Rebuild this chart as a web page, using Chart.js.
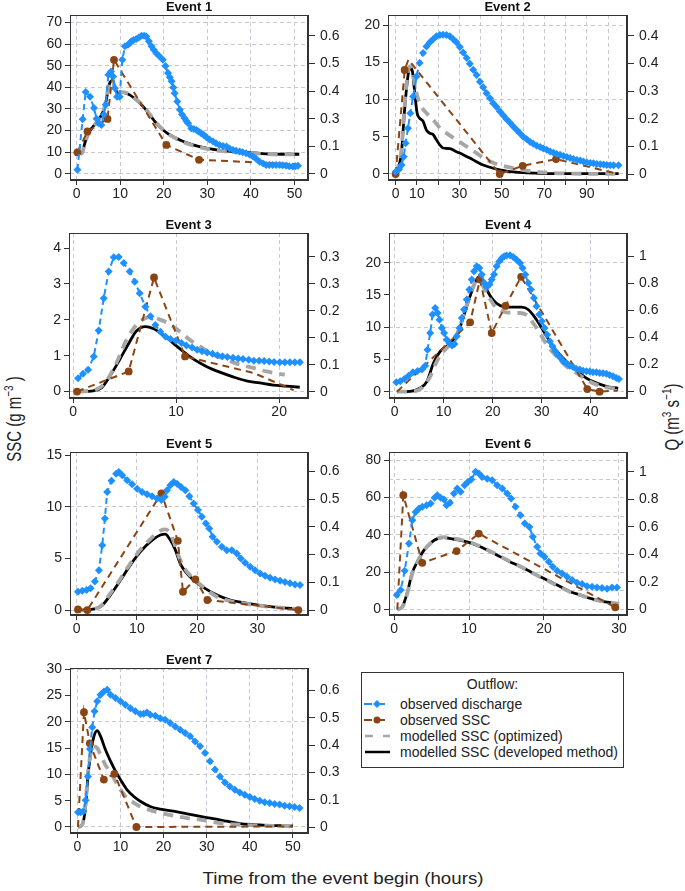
<!DOCTYPE html>
<html>
<head>
<meta charset="utf-8">
<script src="https://cdn.jsdelivr.net/npm/chart.js@4.4.1/dist/chart.umd.min.js"></script>
<style>
  body { margin: 0; background: #fff; width: 685px; height: 891px; position: relative; overflow: hidden;
         font-family: "Liberation Sans", Arial, sans-serif; color: #222; }
  canvas { position: absolute; }
  .txt { position: absolute; white-space: nowrap; }
  #legend { position: absolute; left: 361px; top: 672px; width: 263px; height: 96px; border: 1px solid #333; box-sizing: border-box; }
  #legend .row { position: absolute; left: 0; height: 16px; font-size: 14px; line-height: 16px; }
  #legend svg { position: absolute; left: 1px; top: 3px; }
  #legend span { position: absolute; left: 38px; top: 0; white-space: nowrap; }
</style>
</head>
<body>

<div class="txt" style="left:0;top:400px;width:28px;height:40px;">
  <div style="position:absolute;left:-37px;top:10px;width:100px;text-align:center;font-size:15px;transform:rotate(-90deg) scaleY(1.3);">SSC (g m<sup style="font-size:10px">−3</sup> )</div>
</div>
<div class="txt" style="left:657px;top:398px;width:28px;height:40px;">
  <div style="position:absolute;left:-36px;top:10px;width:100px;text-align:center;font-size:15px;transform:rotate(-90deg) scaleY(1.3);">Q (m<sup style="font-size:10px">3</sup> s<sup style="font-size:10px">−1</sup>)</div>
</div>
<div class="txt" style="left:143px;top:869px;width:400px;text-align:center;font-size:17px;transform:scaleX(1.1);">Time from the event begin (hours)</div>

<div id="legend">
  <div class="row" style="top:3px;width:100%;text-align:center;">Outflow:</div>
  <div class="row" style="top:23px;">
    <svg width="28" height="10"><line x1="1" y1="5" x2="27" y2="5" stroke="#1E90FF" stroke-width="2" stroke-dasharray="8,5"/><polygon points="14,1 18,5 14,9 10,5" fill="#1E90FF"/></svg>
    <span>observed discharge</span></div>
  <div class="row" style="top:39px;">
    <svg width="28" height="10"><line x1="1" y1="5" x2="27" y2="5" stroke="#8B4513" stroke-width="2" stroke-dasharray="8,5"/><circle cx="14" cy="5" r="3.5" fill="#8B4513"/></svg>
    <span>observed SSC</span></div>
  <div class="row" style="top:55px;">
    <svg width="28" height="10"><line x1="2" y1="5" x2="27" y2="5" stroke="#a6a6a6" stroke-width="2.5" stroke-dasharray="8,10"/></svg>
    <span>modelled SSC (optimized)</span></div>
  <div class="row" style="top:71px;">
    <svg width="28" height="10"><line x1="2" y1="5" x2="27" y2="5" stroke="#000" stroke-width="2.5"/></svg>
    <span>modelled SSC (developed method)</span></div>
</div>

<script>
// ---- data: [time (h), value] ----
// discharge in m3/s (right axis), SSC in g/m3 (left axis)
// evNSSC = sampled points (drawn with a dot), evNSSCLine = extra vertices of the dashed SSC line

const ev1Discharge = [[0.2,0.019],[1.4,0.253],[2.1,0.38],[3.1,0.358],[4.0,0.305],[4.6,0.256],[5.1,0.235],[5.7,0.227],[6.3,0.275],[6.7,0.32],[7.3,0.459],[7.9,0.474],[8.4,0.451],[8.8,0.397],[9.3,0.358],[9.9,0.358],[10.5,0.529],[11.1,0.591],[11.8,0.598],[12.2,0.605],[12.6,0.614],[13.1,0.62],[13.7,0.625],[14.3,0.632],[14.9,0.64],[15.5,0.64],[16.0,0.637],[16.6,0.615],[17.2,0.591],[17.7,0.575],[18.3,0.559],[19.0,0.545],[19.8,0.529],[20.4,0.5],[21.0,0.467],[21.4,0.448],[21.8,0.429],[22.2,0.4],[22.5,0.374],[23.1,0.335],[23.7,0.297],[24.2,0.275],[24.8,0.258],[25.2,0.245],[25.6,0.235],[26.3,0.212],[26.9,0.208],[27.5,0.204],[28.0,0.196],[28.6,0.189],[29.2,0.18],[29.8,0.17],[30.5,0.16],[31.3,0.15],[32.0,0.142],[32.8,0.134],[33.6,0.13],[34.4,0.127],[35.1,0.118],[35.9,0.111],[36.6,0.107],[37.4,0.104],[38.1,0.1],[38.9,0.096],[39.7,0.09],[40.5,0.081],[41.2,0.07],[42.0,0.057],[42.8,0.048],[43.5,0.042],[44.2,0.042],[45.0,0.042],[45.8,0.042],[46.6,0.042],[47.3,0.04],[48.1,0.038],[48.8,0.036],[49.6,0.034],[50.2,0.036],[50.8,0.038]];
const ev1SSC = [[0.2,10.0],[2.5,19.6],[7.1,25.4],[8.6,52.7],[20.6,13.4],[28.1,6.5]];
const ev1SSCLine = [[51.0,4.5]];
const ev1Optimized = [[0.5,9.8],[1.2,9.5],[1.9,14.0],[2.7,18.5],[3.8,21.7],[5.3,25.5],[6.5,31.5],[7.6,43.0],[8.1,44.3],[8.7,40.5],[9.5,37.8],[10.7,37.8],[12.2,36.8],[13.7,34.5],[15.3,31.4],[16.8,27.6],[18.3,23.6],[19.8,20.5],[21.4,18.0],[23.7,15.5],[26.0,13.6],[28.2,12.3],[32.1,10.9],[35.9,10.1],[39.7,9.7],[43.5,9.2],[47.3,9.0],[51.1,9.0]];
const ev1Developed = [[0.5,9.6],[1.2,9.3],[1.9,14.2],[2.7,18.8],[3.8,21.9],[5.3,25.7],[6.5,31.1],[7.6,41.9],[8.2,43.0],[8.8,39.6],[9.5,37.3],[10.7,37.6],[12.2,36.5],[13.7,34.2],[15.3,31.1],[16.8,27.3],[18.3,23.4],[19.8,20.4],[21.4,18.0],[23.7,15.7],[26.0,13.9],[28.2,12.6],[32.1,11.1],[35.9,10.3],[39.7,9.9],[43.5,9.3],[47.3,9.1],[51.1,9.1]];

const ev2Discharge = [[0,0.007],[1.6,0.015],[2.8,0.029],[3.8,0.055],[4.7,0.098],[5.8,0.146],[6.9,0.193],[8.2,0.247],[9.8,0.31],[11.3,0.353],[12.9,0.385],[14.5,0.406],[16.1,0.419],[17.6,0.429],[19.2,0.438],[20.8,0.442],[22.3,0.443],[23.9,0.442],[25.5,0.438],[27.1,0.429],[28.6,0.419],[30.2,0.404],[31.8,0.387],[33.4,0.369],[34.9,0.351],[36.5,0.332],[38.1,0.315],[39.7,0.294],[41.2,0.276],[42.8,0.257],[44.4,0.241],[45.9,0.225],[47.5,0.213],[49.1,0.199],[50.7,0.186],[52.2,0.174],[53.8,0.163],[55.4,0.151],[57.0,0.14],[58.5,0.13],[60.1,0.119],[61.7,0.111],[63.3,0.102],[64.8,0.096],[66.4,0.09],[68.0,0.086],[69.5,0.081],[71.1,0.077],[72.7,0.072],[74.3,0.068],[75.8,0.064],[77.4,0.061],[79.0,0.057],[80.6,0.054],[82.1,0.051],[83.7,0.048],[85.3,0.045],[86.9,0.043],[88.4,0.04],[90.0,0.037],[91.6,0.035],[93.1,0.034],[94.7,0.032],[96.3,0.031],[97.9,0.03],[99.4,0.029],[101.0,0.028],[102.6,0.028],[104.9,0.028]];
const ev2SSC = [[0,0],[4.25,14.0],[49.0,0],[59.8,1.1],[75.5,2.0]];
const ev2SSCLine = [[6.0,15.4],[105,0]];
const ev2Optimized = [[0,0],[2.7,3.2],[4.2,9.1],[5.8,13.8],[6.9,14.5],[8.2,13.4],[9.8,10.9],[12.1,9.1],[14.5,8.2],[17.6,7.3],[20.8,6.2],[23.9,5.5],[28.6,4.6],[33.4,3.7],[38.1,2.8],[42.8,1.9],[49.1,1.2],[55.4,0.77],[61.7,0.45],[71.1,0.18],[83.7,0.05],[105,0]];
const ev2Developed = [[0,0.1],[2.7,2.8],[4.2,8.6],[5.8,13.2],[6.9,14.3],[7.9,13.8],[9.0,10.9],[10.1,8.2],[11.3,7.5],[12.9,7.1],[14.5,5.9],[16.0,5.5],[17.6,5.3],[19.2,4.6],[20.8,3.9],[22.3,3.5],[25.5,3.4],[28.6,3.0],[31.8,2.6],[36.5,1.9],[41.2,1.2],[45.9,0.77],[52.2,0.4],[60.1,0.18],[68.0,0.09],[83.7,0.05],[105,0.05]];

const ev3Discharge = [[0.49,0.033],[0.97,0.044],[1.46,0.054],[2.01,0.086],[2.49,0.15],[2.98,0.229],[3.46,0.294],[3.95,0.329],[4.43,0.33],[4.92,0.315],[5.5,0.294],[5.99,0.269],[6.47,0.241],[7.02,0.208],[7.51,0.185],[7.99,0.163],[8.48,0.147],[8.96,0.135],[9.45,0.129],[9.97,0.125],[10.52,0.119],[11.0,0.113],[11.55,0.108],[12.04,0.103],[12.52,0.099],[13.01,0.096],[13.53,0.093],[14.01,0.089],[14.5,0.087],[14.98,0.085],[15.53,0.083],[16.02,0.081],[16.5,0.08],[17.05,0.078],[17.54,0.076],[18.06,0.076],[18.54,0.075],[19.03,0.074],[19.51,0.073],[20.06,0.072],[20.55,0.072],[21.04,0.072],[21.52,0.072],[22.01,0.072]];
const ev3SSC = [[0.39,0],[5.4,0.56],[7.86,3.18],[10.87,0.98]];
const ev3SSCLine = [[17.5,0.52],[21.4,0.04]];
const ev3Optimized = [[0.5,0],[2.27,0.06],[3.24,0.29],[4.2,0.79],[5.18,1.44],[6.15,1.86],[6.8,2.01],[7.6,2.09],[8.41,2.01],[9.39,1.88],[10.36,1.67],[11.33,1.44],[12.3,1.26],[13.59,1.03],[14.89,0.89],[16.18,0.75],[17.48,0.66],[18.77,0.56],[20.55,0.47]];
const ev3Developed = [[0.5,0],[1.94,0.02],[2.75,0.1],[3.56,0.42],[4.53,0.89],[5.5,1.39],[6.15,1.69],[7.02,1.81],[7.77,1.76],[8.74,1.58],[9.71,1.35],[10.68,1.12],[11.65,0.91],[12.94,0.7],[14.24,0.54],[15.53,0.41],[16.83,0.3],[18.12,0.24],[19.42,0.18],[20.71,0.15],[22.0,0.12]];

const ev4Discharge = [[0.34,0.069],[1.15,0.076],[1.97,0.094],[2.85,0.118],[3.73,0.143],[4.68,0.153],[5.56,0.163],[6.24,0.192],[6.71,0.31],[7.25,0.433],[7.73,0.569],[8.27,0.618],[8.75,0.581],[9.15,0.532],[9.63,0.47],[10.1,0.433],[10.64,0.384],[11.19,0.355],[11.73,0.34],[12.2,0.352],[12.68,0.409],[13.22,0.47],[13.69,0.544],[14.17,0.606],[14.71,0.68],[15.25,0.754],[15.73,0.828],[16.2,0.889],[16.75,0.926],[17.29,0.914],[17.76,0.865],[18.31,0.803],[18.78,0.773],[19.32,0.791],[19.8,0.828],[20.27,0.865],[20.81,0.926],[21.36,0.963],[21.9,0.988],[22.37,1.0],[22.85,1.005],[23.53,1.007],[24.2,0.995],[24.88,0.975],[25.56,0.951],[26.1,0.914],[26.64,0.865],[27.25,0.803],[27.8,0.754],[28.41,0.692],[28.95,0.631],[29.49,0.569],[30.03,0.52],[30.58,0.47],[31.12,0.421],[31.66,0.372],[32.2,0.335],[32.75,0.298],[33.29,0.271],[33.83,0.249],[34.37,0.224],[35.05,0.207],[35.73,0.192],[36.41,0.182],[37.08,0.167],[37.76,0.163],[38.44,0.155],[39.12,0.15],[39.8,0.148],[40.47,0.143],[41.15,0.143],[41.83,0.138],[42.51,0.135],[43.19,0.133],[43.86,0.123],[44.54,0.113],[45.22,0.101],[45.76,0.094]];
const ev4SSC = [[15.4,10.75],[17.4,17.4],[19.8,9.1],[22.6,13.3],[25.8,17.8],[39.3,0.41],[41.8,0]];
const ev4SSCLine = [[0.47,0],[45.6,0.2]];
const ev4Optimized = [[0.47,0],[3.9,0.05],[5.9,0.83],[7.3,2.4],[8.6,4.7],[10.0,6.25],[11.3,7.3],[12.7,8.8],[14.0,11.7],[15.4,15.0],[16.7,17.1],[17.4,17.1],[18.4,15.8],[19.5,14.3],[20.8,13.0],[22.8,12.3],[25.6,12.2],[26.9,11.9],[28.3,10.6],[29.6,9.1],[31.3,7.0],[33.0,5.5],[35.1,3.9],[37.1,2.9],[39.1,1.86],[41.2,1.09],[43.2,0.67],[45.6,0.47]];
const ev4Developed = [[0.47,0],[3.2,0.05],[5.2,0.57],[6.6,1.6],[7.9,4.4],[9.3,6.25],[10.6,7.0],[12.0,8.1],[13.4,10.1],[14.7,13.2],[16.1,16.3],[17.1,17.8],[17.8,17.4],[18.8,15.8],[19.8,14.5],[20.8,13.7],[22.2,13.2],[24.2,13.1],[25.9,13.1],[27.3,12.7],[28.9,11.2],[30.6,9.1],[32.3,7.0],[34.0,5.5],[35.7,4.2],[37.4,3.15],[39.1,2.1],[41.2,1.34],[43.2,0.83],[45.6,0.52]];

const ev5Discharge = [[0.22,0.084],[0.94,0.089],[1.65,0.092],[2.32,0.1],[3.03,0.131],[3.7,0.184],[4.25,0.299],[4.69,0.422],[5.07,0.545],[5.79,0.596],[6.56,0.629],[7.0,0.637],[7.56,0.622],[8.38,0.599],[9.21,0.58],[10.04,0.56],[10.87,0.545],[11.69,0.534],[12.52,0.525],[13.35,0.514],[14.07,0.507],[14.62,0.522],[15.0,0.553],[15.55,0.576],[16.11,0.591],[16.66,0.583],[17.32,0.568],[18.04,0.553],[18.7,0.525],[19.42,0.491],[20.13,0.461],[20.79,0.43],[21.46,0.399],[22.01,0.376],[22.56,0.338],[23.28,0.315],[24.1,0.292],[24.93,0.276],[25.76,0.276],[26.59,0.261],[27.25,0.238],[27.96,0.218],[28.79,0.2],[29.62,0.184],[30.45,0.169],[31.27,0.158],[32.1,0.149],[32.93,0.141],[33.76,0.135],[34.58,0.129],[35.41,0.123],[36.24,0.118],[37.07,0.115]];
const ev5SSC = [[0.22,0.06],[1.77,0],[14.07,11.3],[16.8,6.7],[17.65,1.77],[19.7,2.97],[21.7,0.97],[36.8,0]];
const ev5SSCLine = [];
const ev5Optimized = [[0.22,0],[2.3,0.06],[4.0,0.39],[5.6,1.61],[7.3,3.06],[8.9,4.5],[10.6,5.87],[12.2,6.84],[13.9,7.68],[14.7,7.8],[15.55,7.42],[16.4,6.13],[17.2,4.84],[18.3,3.71],[19.7,2.9],[21.3,2.1],[23.3,1.29],[25.5,0.87],[27.7,0.65],[30.4,0.42],[33.2,0.26],[36.8,0.1]];
const ev5Developed = [[0.22,0],[2.3,0.06],[4.0,0.32],[5.6,1.45],[7.3,2.9],[8.9,4.35],[10.6,5.65],[12.2,6.6],[13.9,7.26],[14.7,7.35],[15.55,6.77],[16.4,5.8],[17.2,4.5],[18.3,3.55],[19.7,2.74],[21.3,2.1],[23.3,1.45],[25.5,0.97],[27.7,0.71],[30.4,0.45],[33.2,0.26],[36.8,0.1]];

const ev6Discharge = [[0.36,0.104],[0.89,0.14],[1.42,0.281],[2.0,0.479],[2.44,0.649],[2.88,0.709],[3.33,0.734],[3.77,0.746],[4.35,0.758],[4.88,0.77],[5.41,0.813],[5.77,0.83],[6.21,0.813],[6.66,0.799],[7.01,0.758],[7.46,0.775],[7.99,0.843],[8.43,0.879],[8.88,0.855],[9.41,0.903],[9.85,0.927],[10.3,0.944],[10.87,1.002],[11.32,0.988],[11.76,0.964],[12.43,0.951],[13.09,0.939],[13.76,0.903],[14.43,0.879],[15.09,0.843],[15.62,0.806],[16.2,0.746],[16.87,0.685],[17.44,0.625],[18.06,0.6],[18.51,0.528],[19.09,0.455],[19.53,0.407],[20.06,0.383],[20.64,0.346],[21.17,0.31],[21.75,0.281],[22.42,0.261],[23.08,0.237],[23.75,0.213],[24.41,0.194],[25.08,0.184],[25.74,0.169],[26.41,0.165],[27.07,0.16],[27.74,0.155],[28.41,0.15],[29.07,0.16],[29.74,0.16]];
const ev6SSC = [[1.24,61.3],[3.77,25.0],[8.34,31.3],[11.3,40.7],[29.5,1.1]];
const ev6SSCLine = [[0.44,0],[30.0,0]];
const ev6Optimized = [[0.44,0],[1.1,1.2],[1.8,9.0],[2.4,18.8],[3.1,25.2],[4.0,31.6],[4.9,35.6],[5.8,38.1],[6.7,38.8],[7.5,38.3],[8.9,37.4],[10.2,36.0],[11.5,33.9],[12.9,31.1],[14.2,28.4],[15.5,25.6],[16.9,22.9],[18.2,20.2],[19.5,17.4],[20.9,14.6],[22.2,11.9],[23.5,9.4],[24.9,7.6],[26.2,5.9],[27.5,4.6],[28.9,3.7],[30.0,3.0]];
const ev6Developed = [[0.44,0],[1.1,1.4],[1.8,9.5],[2.4,19.3],[3.1,25.5],[4.0,31.8],[4.9,35.7],[5.8,38.0],[6.7,38.6],[7.5,38.0],[8.9,37.1],[10.2,35.7],[11.5,33.6],[12.9,30.9],[14.2,28.2],[15.5,25.5],[16.9,22.9],[18.2,20.2],[19.5,17.5],[20.9,14.8],[22.2,12.1],[23.5,9.5],[24.9,7.7],[26.2,5.9],[27.5,4.5],[28.9,3.6],[30.0,2.9]];

const ev7Discharge = [[0.15,0.069],[0.77,0.069],[1.38,0.073],[1.92,0.125],[2.46,0.237],[2.92,0.365],[3.46,0.468],[4.0,0.542],[4.62,0.589],[5.38,0.62],[6.15,0.635],[6.92,0.643],[7.69,0.62],[8.85,0.604],[10.0,0.589],[11.15,0.573],[12.31,0.557],[13.46,0.542],[14.62,0.529],[15.38,0.531],[16.15,0.537],[16.92,0.526],[18.08,0.521],[19.23,0.51],[20.38,0.503],[21.54,0.487],[22.69,0.471],[23.85,0.456],[25.0,0.44],[26.15,0.425],[27.31,0.401],[28.46,0.378],[29.62,0.347],[30.77,0.308],[31.92,0.269],[33.08,0.237],[34.23,0.209],[35.38,0.19],[36.54,0.175],[37.69,0.162],[38.85,0.151],[40.0,0.141],[41.15,0.131],[42.31,0.123],[43.46,0.116],[44.62,0.112],[45.77,0.108],[46.92,0.105],[48.08,0.1],[49.23,0.097],[50.38,0.094],[51.54,0.089]];
const ev7SSC = [[1.54,21.8],[2.9,15.9],[6.15,9.0],[8.6,10.1],[13.7,0]];
const ev7SSCLine = [[0.15,0],[50.0,0.1]];
const ev7Optimized = [[0.15,0],[1.15,0.44],[1.92,4.6],[2.46,10.3],[3.1,14.0],[3.85,15.3],[4.6,15.0],[5.4,13.7],[6.5,11.8],[7.7,10.3],[8.85,8.7],[10.0,7.1],[11.5,5.5],[13.1,4.6],[14.6,3.9],[16.9,3.2],[19.2,2.7],[22.3,2.15],[25.4,1.7],[28.5,1.4],[31.5,0.95],[34.6,0.63],[37.7,0.44],[40.8,0.32],[43.8,0.25],[50.0,0.19]];
const ev7Developed = [[0.15,0],[1.15,0.44],[1.92,3.9],[2.46,9.6],[3.1,14.0],[3.85,17.2],[4.6,18.3],[5.4,17.2],[6.5,14.7],[7.7,12.5],[8.85,10.6],[10.0,9.0],[11.5,7.1],[13.1,5.8],[14.6,4.9],[16.9,3.9],[19.2,3.4],[22.3,3.0],[25.4,2.5],[28.5,2.0],[31.5,1.6],[34.6,1.1],[37.7,0.63],[40.8,0.44],[43.8,0.32],[46.9,0.25],[50.0,0.19]];

// tick values and their printed labels
const qTicks064 = [0, 0.128, 0.256, 0.384, 0.512, 0.64];
const qLabels064 = ['0', '0.1', '0.3', '0.4', '0.5', '0.6'];
const qTicks044 = [0, 0.088, 0.176, 0.264, 0.352, 0.44];
const qLabels044 = ['0', '0.1', '0.2', '0.3', '0.4', '0.4'];
const qTicks033 = [0, 0.066, 0.132, 0.198, 0.264, 0.33];
const qLabels033 = ['0', '0.1', '0.1', '0.2', '0.3', '0.3'];
const qTicks1 = [0, 0.2, 0.4, 0.6, 0.8, 1];
const qLabels1 = ['0', '0.2', '0.4', '0.6', '0.8', '1'];

const blue = '#1E90FF', brown = '#8B4513', grey = '#a6a6a6';
const axisCol = '#333', textCol = '#222', gridCol = '#c8c8d6';
Chart.defaults.font.family = '"Liberation Sans", Arial, sans-serif';

const panels = [
  { title: 'Event 1', box: [70, 308, 15, 180], x: [-1.5, 53.1], xt: [0,10,20,30,40,50],
    y: [-2.8, 73.4], yt: [0,10,20,30,40,50,60,70], q: [-0.028, 0.736], qt: qTicks064, ql: qLabels064,
    gx: [0,10,20,30,40,50], gy: [0,10,20,30,40,50,60,70],
    d: [ev1Discharge, ev1SSC, ev1SSCLine, ev1Optimized, ev1Developed] },
  { title: 'Event 2', box: [388, 627, 15, 180], x: [-3.6, 108.9], xt: [0,10,20,30,40,50,60,70,80,90,100], xl: [0,10,30,50,70,90],
    y: [-0.81, 21.4], yt: [0,5,10,15,20], q: [-0.019, 0.506], qt: qTicks044, ql: qLabels044,
    gx: [0,10,20,30,40,50,60,70,80,90,100], gy: [0,10,20],
    d: [ev2Discharge, ev2SSC, ev2SSCLine, ev2Optimized, ev2Developed] },
  { title: 'Event 3', box: [69, 308, 233, 398], x: [-0.39, 22.8], xt: [0,10,20],
    y: [-0.18, 4.42], yt: [0,1,2,3,4], q: [-0.0154, 0.3885], qt: qTicks033, ql: qLabels033,
    gx: [0,10,20], gy: [0],
    d: [ev3Discharge, ev3SSC, ev3SSCLine, ev3Optimized, ev3Developed] },
  { title: 'Event 4', box: [389, 627, 233, 398], x: [-1.15, 47.4], xt: [0,10,20,30,40],
    y: [-0.98, 24.6], yt: [0,5,10,15,20], q: [-0.047, 1.172], qt: qTicks1, ql: qLabels1,
    gx: [0,10,20,30,40], gy: [0,10,20],
    d: [ev4Discharge, ev4SSC, ev4SSCLine, ev4Optimized, ev4Developed] },
  { title: 'Event 5', box: [70, 308, 452, 615], x: [-1.1, 38.4], xt: [0,10,20,30],
    y: [-0.48, 15.3], yt: [0,5,10,15], q: [-0.023, 0.729], qt: qTicks064, ql: qLabels064,
    gx: [0,10,20,30], gy: [0,10],
    d: [ev5Discharge, ev5SSC, ev5SSCLine, ev5Optimized, ev5Developed] },
  { title: 'Event 6', box: [389, 627, 452, 615], x: [-0.67, 31.07], xt: [0,10,20,30],
    y: [-3.0, 84.5], yt: [0,20,40,60,80], q: [-0.041, 1.145], qt: qTicks1, ql: qLabels1,
    gx: [0,10,20,30], gy: [0,10,20,30,40,50,60,70,80],
    d: [ev6Discharge, ev6SSC, ev6SSCLine, ev6Optimized, ev6Developed] },
  { title: 'Event 7', box: [70, 308, 668, 833], x: [-1.7, 53.5], xt: [0,10,20,30,40,50],
    y: [-1.14, 30.2], yt: [0,5,10,15,20,25,30], q: [-0.028, 0.745], qt: qTicks064, ql: qLabels064,
    gx: [0,10,20,30,40,50], gy: [0,10,20,30],
    d: [ev7Discharge, ev7SSC, ev7SSCLine, ev7Optimized, ev7Developed] }
];

const L = 50, R = 37, T = 15, B = 22;
const tickFont = { size: 14 };
const pts = a => a.map(([x, y]) => ({ x, y }));
const sscPts = (marked, extra) => marked.map(([x, y]) => ({ x, y, m: 1 }))
  .concat(extra.map(([x, y]) => ({ x, y, m: 0 }))).sort((a, b) => a.x - b.x);
const setTicks = vals => s => { s.ticks = vals.map(v => ({ value: v })); };

panels.forEach(p => {
  const [bx0, bx1, by0, by1] = p.box;
  const w = bx1 - bx0 + L + R, h = by1 - by0 + T + B;
  const cv = document.createElement('canvas');
  cv.width = w; cv.height = h;
  cv.style.left = (bx0 - L) + 'px'; cv.style.top = (by0 - T) + 'px';
  cv.style.width = w + 'px'; cv.style.height = h + 'px';
  document.body.appendChild(cv);

  const frame = {
    id: 'frame',
    afterDraw(c) {
      const a = c.chartArea, ctx = c.ctx;
      ctx.save();
      ctx.strokeStyle = axisCol; ctx.lineWidth = 1;
      ctx.strokeRect(Math.round(a.left) + 0.5, Math.round(a.top) + 0.5,
                     Math.round(a.right - a.left) - 1, Math.round(a.bottom - a.top) - 1);
      ctx.fillStyle = '#111';
      ctx.font = 'bold 13px "Liberation Sans", Arial, sans-serif';
      ctx.textAlign = 'center'; ctx.textBaseline = 'middle';
      ctx.fillText(p.title, (a.left + a.right) / 2, a.top - 8);
      ctx.restore();
    }
  };

  new Chart(cv, {
    type: 'line',
    data: { datasets: [
      { data: pts(p.d[0]), yAxisID: 'y2', borderColor: blue, borderWidth: 2, borderDash: [6, 4],
        pointStyle: 'rectRot', pointRadius: 4, pointBackgroundColor: blue, pointBorderWidth: 0, order: 0 },
      { data: sscPts(p.d[1], p.d[2]), yAxisID: 'y', borderColor: brown, borderWidth: 2, borderDash: [7, 5],
        pointStyle: 'circle', pointRadius: ctx => (ctx.raw && ctx.raw.m ? 3.9 : 0),
        pointBackgroundColor: brown, pointBorderWidth: 0, order: 1 },
      { data: pts(p.d[3]), yAxisID: 'y', borderColor: grey, borderWidth: 3.8, borderDash: [10, 7],
        pointRadius: 0, cubicInterpolationMode: 'monotone', order: 2 },
      { data: pts(p.d[4]), yAxisID: 'y', borderColor: '#000', borderWidth: 2.8,
        pointRadius: 0, cubicInterpolationMode: 'monotone', order: 3 }
    ] },
    options: {
      responsive: false, animation: false, events: [],
      layout: { padding: { top: T, left: 0, right: 0, bottom: 0 } },
      plugins: { legend: { display: false }, tooltip: { enabled: false } },
      scales: {
        x: { type: 'linear', position: 'bottom', min: p.x[0], max: p.x[1],
             afterBuildTicks: setTicks(p.xt), afterFit: s => { s.height = B; },
             grid: { drawOnChartArea: false, tickLength: 5, color: axisCol },
             border: { color: axisCol },
             ticks: { font: tickFont, color: textCol, padding: 1, maxRotation: 0, autoSkip: false,
                      callback: v => (!p.xl || p.xl.includes(v)) ? String(v) : '' } },
        gx: { type: 'linear', position: 'bottom', min: p.x[0], max: p.x[1],
              afterBuildTicks: setTicks(p.gx), afterFit: s => { s.height = 0; },
              ticks: { display: false }, grid: { color: gridCol, drawTicks: false },
              border: { display: false, dash: [4, 3] } },
        y: { type: 'linear', position: 'left', min: p.y[0], max: p.y[1],
             afterBuildTicks: setTicks(p.yt), afterFit: s => { s.width = L; },
             grid: { drawOnChartArea: false, tickLength: 5, color: axisCol },
             border: { color: axisCol },
             ticks: { font: tickFont, color: textCol, padding: 3, autoSkip: false } },
        gy: { type: 'linear', position: 'left', min: p.y[0], max: p.y[1],
              afterBuildTicks: setTicks(p.gy), afterFit: s => { s.width = 0; },
              ticks: { display: false }, grid: { color: gridCol, drawTicks: false },
              border: { display: false, dash: [4, 3] } },
        y2: { type: 'linear', position: 'right', min: p.q[0], max: p.q[1],
              afterBuildTicks: setTicks(p.qt), afterFit: s => { s.width = R; },
              grid: { drawOnChartArea: false, tickLength: 7, color: axisCol },
              border: { color: axisCol },
              ticks: { font: tickFont, color: textCol, padding: 5, autoSkip: false,
                       callback: (v, i) => p.ql[i] } }
      }
    },
    plugins: [frame]
  });
});
</script>
</body>
</html>
